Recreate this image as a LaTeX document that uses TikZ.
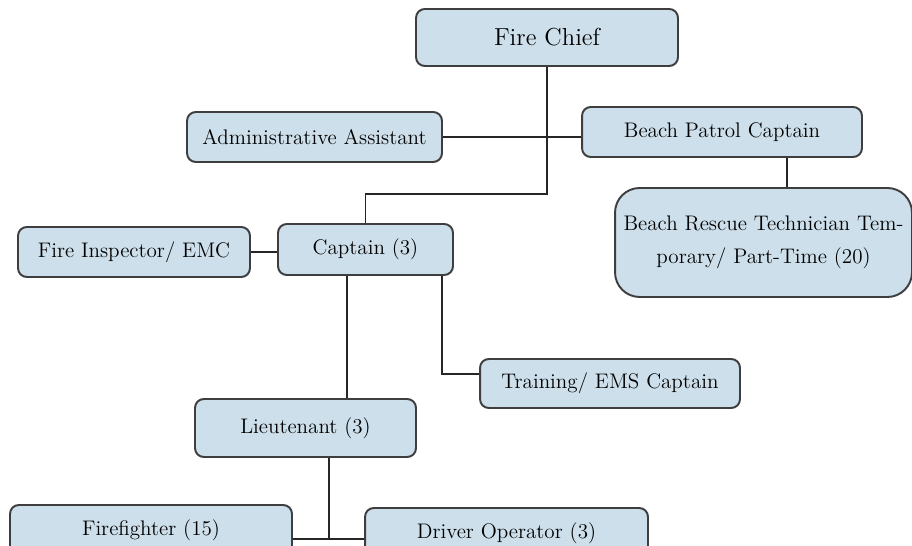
\documentclass[tikz,border=0pt]{standalone}
\definecolor{boxfill}{RGB}{205,223,234}
\definecolor{boxline}{RGB}{62,62,62}
\tikzset{
  post/.style={draw=boxline, line width=1.1pt, fill=boxfill, rounded corners=5pt,
    inner sep=0pt, align=center, text=black, font=\fontsize{12}{18.7}\selectfont},
  link/.style={draw=black!85, line width=0.9pt},
}
\begin{document}
\begin{tikzpicture}[x=0.02cm, y=-0.02cm]
\clip (0,0) rectangle (912,546);
\fill[white] (0,0) rectangle (912,546);
% top of the department
\node[post, minimum width=5.24cm, minimum height=1.14cm, font=\fontsize{14}{16}\selectfont] (chief) at (547,37.5) {Fire Chief};
\node[post, minimum width=5.1cm, minimum height=1cm] (admin) at (314.5,137) {Administrative Assistant};
\node[post, minimum width=5.6cm, minimum height=1cm] (patrol) at (722,132) {Beach Patrol Captain};
\node[post, minimum width=5.94cm, minimum height=2.18cm, rounded corners=14pt] (rescue) at (763.5,242.5) {Beach Rescue Technician Tem-\\porary/ Part-Time (20)};
% suppression side
\node[post, minimum width=4.64cm, minimum height=1cm] (inspector) at (134,252) {Fire Inspector/ EMC};
\node[post, minimum width=3.5cm, minimum height=1.02cm] (captain) at (365.5,249.5) {Captain (3)};
\node[post, minimum width=5.2cm, minimum height=0.98cm] (training) at (610,383.5) {Training/ EMS Captain};
\node[post, minimum width=4.42cm, minimum height=1.16cm] (lieutenant) at (305.5,428) {Lieutenant (3)};
\node[post, minimum width=5.64cm, minimum height=1cm] (firefighter) at (151,530) {Firefighter (15)};
\node[post, minimum width=5.66cm, minimum height=1cm] (driver) at (506.5,533) {Driver Operator (3)};

\coordinate (split) at (547,194);
\coordinate (crew) at (329.2,539);

\draw[link] (chief.south) -- (split) -| (captain.north);
\draw[link] (admin.east) -- (admin.east -| patrol.west);
\draw[link] ([xshift=1.3cm]patrol.south) -- ([xshift=1.3cm]patrol.south |- rescue.north);
\draw[link] (inspector.east) -- (inspector.east -| captain.west);
\draw[link] ([xshift=-0.37cm]captain.south) -- ([xshift=-0.37cm]captain.south |- lieutenant.north);
\draw[link] ([xshift=1.53cm]captain.south) |- ([yshift=0.19cm]training.west);
\draw[link] (lieutenant.south -| crew) -- (crew);
\draw[link] (firefighter.east |- crew) -- (driver.west |- crew);
\end{tikzpicture}
\end{document}
